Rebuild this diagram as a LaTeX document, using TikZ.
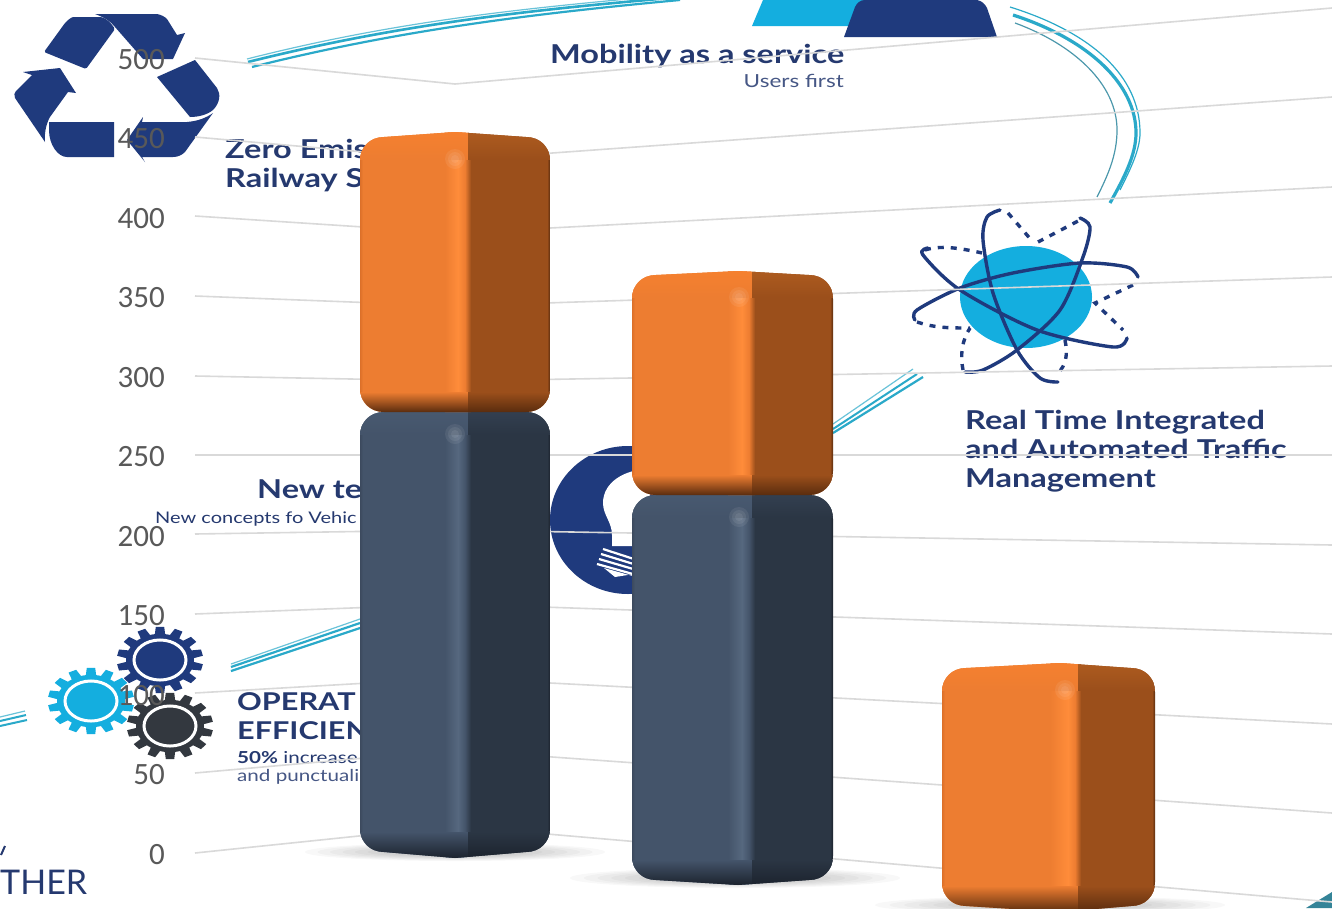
\documentclass[tikz,border=0pt]{standalone}
\usepackage{fontspec}
\setmainfont{Lato}
\newfontfamily\stf[FakeStretch=1.25]{Lato}
\newfontfamily\axisf{Carlito}
\definecolor{navy}{HTML}{1F3A7D}
\definecolor{txtnavy}{HTML}{25396F}
\definecolor{cyanb}{HTML}{14AEDF}
\definecolor{rib}{HTML}{2AA9C9}
\definecolor{gridc}{HTML}{D9D9D9}
\definecolor{axisc}{HTML}{595959}
\definecolor{darkg}{HTML}{33383F}
\definecolor{OL}{HTML}{ED7D31}\definecolor{OH}{HTML}{FF8C3A}\definecolor{OR}{HTML}{9B4F1B}\definecolor{OD}{HTML}{5A2C0E}\definecolor{OT}{HTML}{AD5B1F}\definecolor{OU}{HTML}{F5802F}\definecolor{OE}{HTML}{DC7029}
\definecolor{BL}{HTML}{44546A}\definecolor{BH}{HTML}{56687F}\definecolor{BR}{HTML}{2B3644}\definecolor{BD}{HTML}{1C232E}\definecolor{BT}{HTML}{333F50}\definecolor{BU}{HTML}{485970}\definecolor{BE}{HTML}{3C4A5E}
\tikzset{
 gridline/.style={draw=gridc,line width=1.6pt},
 axislab/.style={font=\axisf\fontsize{31}{31}\selectfont,text=axisc,anchor=base east,inner sep=0pt},
 navylab/.style={text=txtnavy,anchor=base west,inner sep=0pt,align=left},
 ribthick/.style={draw=rib,line width=2.6pt},
 ribthin/.style={draw=rib!70,line width=1.2pt},
 orbit/.style={draw=navy,line width=3.4pt,line cap=round},
 orbitd/.style={draw=navy,line width=3.4pt,dash pattern=on 6pt off 7pt},
}
\newcommand{\cubebar}[9]{%
 % x0, xhl, xe, x1, toppeak, topshoulder, botshoulder, botpeak, colour prefix
 \begin{scope}
 \pgfmathsetmacro{\xp}{#2+10}
 \pgfmathsetmacro{\xa}{#1+24}\pgfmathsetmacro{\xb}{#4-24}
 \pgfmathsetmacro{\ya}{#6+24}\pgfmathsetmacro{\yb}{#7-24}
 \clip (#1,\ya) .. controls (#1,#6+10) and (#1+10,#6) .. (\xa,#6) -- (\xp,#5) -- (\xb,#6)
   .. controls (#4-10,#6) and (#4,#6+10) .. (#4,\ya) -- (#4,\yb)
   .. controls (#4,#7-10) and (#4-10,#7) .. (\xb,#7) -- (\xp,#8) -- (\xa,#7)
   .. controls (#1+10,#7) and (#1,#7-10) .. (#1,\yb) -- cycle;
 \fill[#9L] (#1,#5) rectangle (#3,#8);
 \fill[#9R] (#3,#5) rectangle (#4,#8);
 \shade[left color=#9E,right color=#9L] (#1,#5) rectangle (#1+3,#8);
 \shade[left color=#9R,right color=#9D] (#4-3,#5) rectangle (#4,#8);
 % edge highlight
 \shade[left color=#9L,right color=#9H] (#2,#5) rectangle (#3-10,#8);
 \shade[left color=#9H,right color=#9L] (#3-10,#5) rectangle (#3-3,#8);
 \shade[left color=#9L,right color=#9R] (#3-3,#5) rectangle (#3+3,#8);
 % top band
 \shade[top color=#9U,bottom color=#9L] (#1,#5) rectangle (#3,#6+22);
 \shade[top color=#9T,bottom color=#9R] (#3,#5) rectangle (#4,#6+22);
 % bottom band
 \shade[top color=#9L,bottom color=#9D] (#1,#7-20) rectangle (#3,#8);
 \shade[top color=#9R,bottom color=#9D] (#3,#7-20) rectangle (#4,#8);
 % glint at the top of the edge
 \foreach \rr in {10,7,4}{\fill[white,opacity=.07] (#3-13,#6+22) circle [radius=\rr];}
 \end{scope}}
\newcommand{\cogwheel}[4]{%
 \begin{scope}[shift={(#1,#2)},yscale=#3]
  \foreach \i in {0,...,13}{
   \fill[#4,rotate=\i*360/14] (-5.5,-30) -- (-4.2,-43) -- (4.2,-43) -- (5.5,-30) -- cycle;}
  \fill[#4] (0,0) circle [radius=34];
  \draw[white,line width=3pt] (0,0) circle [radius=26];
 \end{scope}}
\newcommand{\softshadow}[4]{%
 \foreach \k in {1,...,12}{
  \fill[black,opacity=.028] (#1,#2) ellipse [x radius={#3*\k/12},y radius={#4*\k/12}];}}
\begin{document}
\begin{tikzpicture}[x=1pt,y=-1pt]
\clip (0,0) rectangle (1332,908);
\fill[white] (0,0) rectangle (1332,908);

% soft floor shadows
\softshadow{455}{852}{150}{9}
\softshadow{735}{878}{165}{10}
\softshadow{1050}{905}{175}{9}

% recycle symbol
\fill[navy,rounded corners=1.5pt] (44,52) -- (65,23) .. controls (69,19) and (72,17) .. (75,17) -- (100,17) .. controls (106,18) and (111,23) .. (115,29) -- (86,69) -- cycle;
\fill[navy] (95,14) -- (157,14) .. controls (162,15) and (165,17) .. (167,19) -- (177,35) -- (185,33) -- (173,59) -- (143,59) -- (115,27) .. controls (111,22) and (106,18) .. (95,14) -- cycle;
\fill[navy] (157,77) -- (195,60) -- (217,88) .. controls (221,94) and (220,103) .. (213,110) .. controls (207,115) and (198,117) .. (190,117) -- cycle;
\fill[navy] (127,140) -- (143,117) -- (142,122) -- (187,122) .. controls (198,121) and (206,118) .. (213,113) -- (185,152) .. controls (182,155) and (178,157) .. (173,157) -- (142,157) -- (145,162) -- cycle;
\fill[navy] (49,122) -- (114,122) -- (114,157) -- (67,157) .. controls (58,157) and (49,145) .. (49,130) -- cycle;
\fill[navy] (23,72) -- (60,68) -- (76,93) -- (68,92) -- (50,117) .. controls (47,122) and (44,132) .. (45,142) -- (15,98) .. controls (14,95) and (14,93) .. (16,91) -- (32,75) -- cycle;

% top pictogram
\fill[cyanb] (752,26) -- (763,0) -- (880,0) -- (870,26) -- cycle;
\fill[navy] (844,37) -- (855,7) .. controls (857,3) and (860,0) .. (865,0) -- (977,0) .. controls (982,1) and (985,4) .. (987,8) -- (997,37) -- cycle;

% ribbons
\draw[ribthin] (247,59) .. controls (400,20) and (530,8) .. (660,-4);
\draw[ribthick] (248,62) .. controls (400,24) and (530,10) .. (670,-2);
\draw[ribthick,line width=2.2pt] (252,67) .. controls (400,30) and (530,14) .. (680,0);
\draw[ribthin] (231,664) -- (360,619);
\draw[ribthick,line width=2.2pt] (231,667) -- (360,623);
\draw[ribthick,line width=2.2pt] (231,671) -- (360,628);
\draw[ribthin] (0,717) -- (25,711);
\draw[ribthick,line width=2pt] (0,721) -- (26,715);
\draw[ribthick,line width=2pt] (0,726) -- (27,720);
\draw[ribthin] (833,424) -- (913,369);
\draw[ribthick,line width=2pt] (833,429) -- (917,374);
\draw[ribthick,line width=2.2pt] (833,433) -- (923,377);
\draw[ribthin,draw=rib] (1010,7) .. controls (1090,32) and (1140,75) .. (1140,133) .. controls (1140,150) and (1130,170) .. (1120,190);
\draw[ribthick,line width=3.2pt] (1013,15) .. controls (1090,40) and (1136,85) .. (1136,133) .. controls (1136,155) and (1124,178) .. (1110,203);
\draw[ribthin,draw=rib!60!gray] (1015,23) .. controls (1075,45) and (1117,85) .. (1117,130) .. controls (1117,155) and (1108,175) .. (1097,197);

% lightbulb
\fill[navy] (628,520) ellipse [x radius=78,y radius=74];
\fill[white] (650,469) .. controls (625,469) and (603,482) .. (603,503) .. controls (603,515) and (612,522) .. (612,535) -- (612,546) -- (650,546) -- cycle;
\foreach \d in {0,1,2,3}{
 \draw[white,line width=2.2pt] (603-\d*2,549+\d*5) -- (640,561+\d*5);}
\fill[white] (604,568) -- (615,577) -- (640,573) -- (640,578) -- cycle;

% atom
\fill[cyanb] (1026,297) ellipse [x radius=66,y radius=51];
\draw[orbit] plot[smooth] coordinates {(928,248) (923,255) (960,290) (1037,330) (1113,347) (1127,338)};
\draw[orbit] plot[smooth] coordinates {(1138,277) (1127,267) (1080,263) (1013,273) (960,288) (917,310) (915,320)};
\draw[orbit] plot[smooth] coordinates {(1000,210) (987,217) (983,240) (993,293) (1017,350) (1040,378) (1058,382)};
\draw[orbit] plot[smooth] coordinates {(1080,218) (1090,227) (1083,257) (1060,310) (1017,350) (983,370) (965,372)};
\draw[orbitd] (925,250) .. controls (940,245) and (960,248) .. (982,253);
\draw[orbitd] (1008,213) -- (1033,242);
\draw[orbitd] (1038,242) -- (1080,220);
\draw[orbitd] (1133,285) -- (1095,303) -- (1123,330);
\draw[orbitd] (1065,340) .. controls (1068,355) and (1066,365) .. (1058,373);
\draw[orbitd] (963,370) .. controls (960,355) and (962,340) .. (970,328);
\draw[orbitd] (917,322) .. controls (935,328) and (950,328) .. (970,328);

% gears
\cogwheel{91}{701}{.77}{cyanb}
\cogwheel{160}{660}{.77}{navy}
\cogwheel{170}{726}{.77}{darkg}

% image texts
\node[navylab,font=\stf\bfseries\fontsize{26}{26}\selectfont] (mob) at (550,63) {Mobility as a service};
\node[text=txtnavy!85,anchor=base east,inner sep=0pt,font=\stf\fontsize{18}{18}\selectfont] (usr) at (844,87) {Users first};
\node[navylab,font=\stf\bfseries\fontsize{26}{26}\selectfont] (zer1) at (225,158) {Zero Emis};
\node[navylab,font=\stf\bfseries\fontsize{26}{26}\selectfont] (zer2) at (225,187) {Railway S};
\node[navylab,font=\stf\bfseries\fontsize{26}{26}\selectfont] (rt1) at (965,429) {Real Time Integrated};
\node[navylab,font=\stf\bfseries\fontsize{26}{26}\selectfont] (rt2) at (965,458) {and Automated Traffic};
\node[navylab,font=\stf\bfseries\fontsize{26}{26}\selectfont] (rt3) at (965,487) {Management};
\node[navylab,font=\stf\bfseries\fontsize{26}{26}\selectfont] (nt1) at (257,498) {New te};
\node[navylab,font=\stf\fontsize{16}{16}\selectfont] (nt2) at (155,523) {New concepts fo Vehic};
\node[navylab,font=\stf\bfseries\fontsize{24.5}{25}\selectfont] (op1) at (237,710) {OPERAT};
\node[navylab,font=\stf\bfseries\fontsize{24.5}{25}\selectfont] (op2) at (237,739) {EFFICIEN};
\node[navylab,font=\stf\fontsize{16.5}{17}\selectfont] (op3) at (237,763) {\textbf{50\%} increase};
\node[navylab,font=\stf\fontsize{16.5}{17}\selectfont,text=txtnavy!85] (op4) at (237,781) {and punctuali};
\node[navylab,font=\fontsize{34}{34}\selectfont] (ther) at (0,894) {THER};
\draw[txtnavy,line width=2pt] (5,846) -- (1,855);
\fill[rib!70!black!90] (1306,908) -- (1332,892) -- (1332,908) -- cycle;

% gridlines
\draw[gridline] (195,58) -- (455,84) -- (1332,8);
\draw[gridline] (195,137) -- (455,160) -- (1332,97);
\draw[gridline] (195,216) -- (455,233) -- (1332,187);
\draw[gridline] (195,296) -- (455,306) -- (1332,277);
\draw[gridline] (195,376) -- (455,381) -- (1332,366);
\draw[gridline] (195,455) -- (455,455) -- (1332,455);
\draw[gridline] (195,534) -- (455,530) -- (1332,545);
\draw[gridline] (195,614) -- (455,604) -- (1332,634);
\draw[gridline] (195,693) -- (455,678) -- (1332,724);
\draw[gridline] (195,773) -- (455,750) -- (1332,813);
\draw[gridline] (195,853) -- (455,826) -- (1332,902);

% axis labels
\foreach \v/\y in {500/69,450/148,400/228,350/307,300/387,250/466,200/546,150/625,100/705,50/784,0/864}{
 \node[axislab] (ax\v) at (165,\y) {\v};}

% bars
\cubebar{360}{445}{468}{550}{412}{412}{852}{858}{B}
\cubebar{360}{445}{468}{550}{132}{137}{412}{412}{O}
\cubebar{632}{728}{752}{833}{495}{495}{880}{885}{B}
\cubebar{632}{728}{752}{833}{271}{275}{495}{495}{O}
\cubebar{942}{1050}{1078}{1155}{663}{668}{906}{912}{O}
\end{tikzpicture}
\end{document}
